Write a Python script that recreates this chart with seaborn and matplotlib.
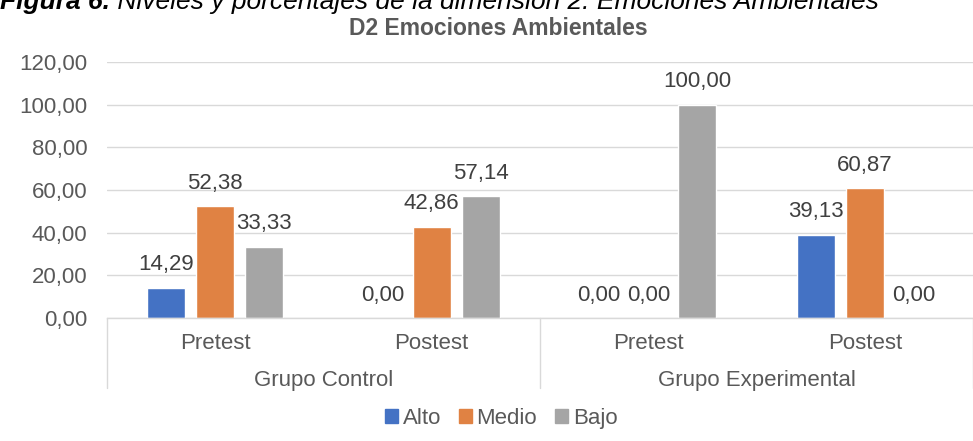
import numpy as np
import pandas as pd
import seaborn as sns
import matplotlib.pyplot as plt
import matplotlib.patches as mpatches
import matplotlib.transforms as mtransforms
from matplotlib.ticker import FuncFormatter

# datos del grafico
grupos = ["Grupo Control", "Grupo Experimental"]
momentos = ["Pretest", "Postest"]
niveles = ["Alto", "Medio", "Bajo"]
alto = [14.29, 0.00, 0.00, 39.13]
medio = [52.38, 42.86, 0.00, 60.87]
bajo = [33.33, 57.14, 100.00, 0.00]
yticks = [0, 20, 40, 60, 80, 100, 120]

colores = ["#4472C4", "#E08243", "#A5A5A5"]
gris_texto = "#595959"
fs = 16


def coma(v, pos=None):
    return f"{v:.2f}".replace(".", ",")


cats = [g + " " + m for g in grupos for m in momentos]
df = pd.DataFrame({
    "cat": cats * 3,
    "nivel": [n for n in niveles for _ in cats],
    "valor": alto + medio + bajo,
})

sns.set_theme(style="white")
plt.rcParams["font.family"] = ["Liberation Sans", "DejaVu Sans"]

fig = plt.figure(figsize=(9.73, 4.41), dpi=100)
ax = fig.add_axes([107 / 973, 1 - 318 / 441, 866 / 973, 256 / 441])

sns.barplot(data=df, x="cat", y="valor", hue="nivel", order=cats,
            hue_order=niveles, palette=colores, saturation=1,
            width=0.68, gap=0.22, ax=ax, legend=False)

# etiquetas de datos
for cont, vals in zip(ax.containers, [alto, medio, bajo]):
    ax.bar_label(cont, labels=[coma(v) for v in vals], padding=9,
                 fontsize=fs, color="#404040")

ax.set_ylim(0, 120)
ax.set_xlim(-0.5, len(cats) - 0.5)
ax.set_yticks(yticks)
ax.yaxis.set_major_formatter(FuncFormatter(coma))
ax.set_xticks(range(len(cats)))
ax.set_xticklabels(momentos * len(grupos))
ax.tick_params(axis="both", length=0, labelsize=fs, labelcolor=gris_texto)
ax.tick_params(axis="y", pad=14)
ax.tick_params(axis="x", pad=11)
ax.set_xlabel("")
ax.set_ylabel("")
ax.yaxis.grid(True, color="#D9D9D9", lw=1)
ax.set_axisbelow(True)
for s in ["top", "right", "left"]:
    ax.spines[s].set_visible(False)
ax.spines["bottom"].set_color("#D9D9D9")
ax.spines["bottom"].set_linewidth(1)

# eje de categorias de dos niveles
trans = mtransforms.blended_transform_factory(ax.transData, ax.transAxes)
n = len(momentos)
for i in range(len(grupos) + 1):
    xs = i * n - 0.5
    ax.plot([xs, xs], [0, -0.273], transform=trans, color="#D9D9D9",
            lw=1, clip_on=False)
for i, g in enumerate(grupos):
    ax.text(i * n + (n - 1) / 2, -0.246, g, transform=trans, ha="center",
            va="center", fontsize=fs, color=gris_texto)

fig.text(0.512, 0.936, "D2 Emociones Ambientales", ha="center",
         va="center", fontsize=16.5, fontweight="bold", color=gris_texto)

# leyenda de la figura (cortada arriba, como en el original)
t1 = fig.text(0.0, 1 - 14 / 441, "Figura 6.", ha="left", va="bottom",
              fontsize=19, fontstyle="italic", fontweight="bold",
              color="black")
ax.annotate(" Niveles y porcentajes de la dimensión 2: Emociones Ambientales",
            xy=(1, 0), xycoords=t1, ha="left", va="bottom", fontsize=19,
            fontstyle="italic", color="black", annotation_clip=False)

handles = [mpatches.Patch(color=c) for c in colores]
fig.legend(handles, niveles, loc="center", bbox_to_anchor=(0.515, 0.052),
           ncol=3, frameon=False, handlelength=0.6, handleheight=0.6,
           handletextpad=0.2, columnspacing=0.8, fontsize=fs,
           labelcolor=gris_texto)

fig.savefig("out.png", dpi=100)
